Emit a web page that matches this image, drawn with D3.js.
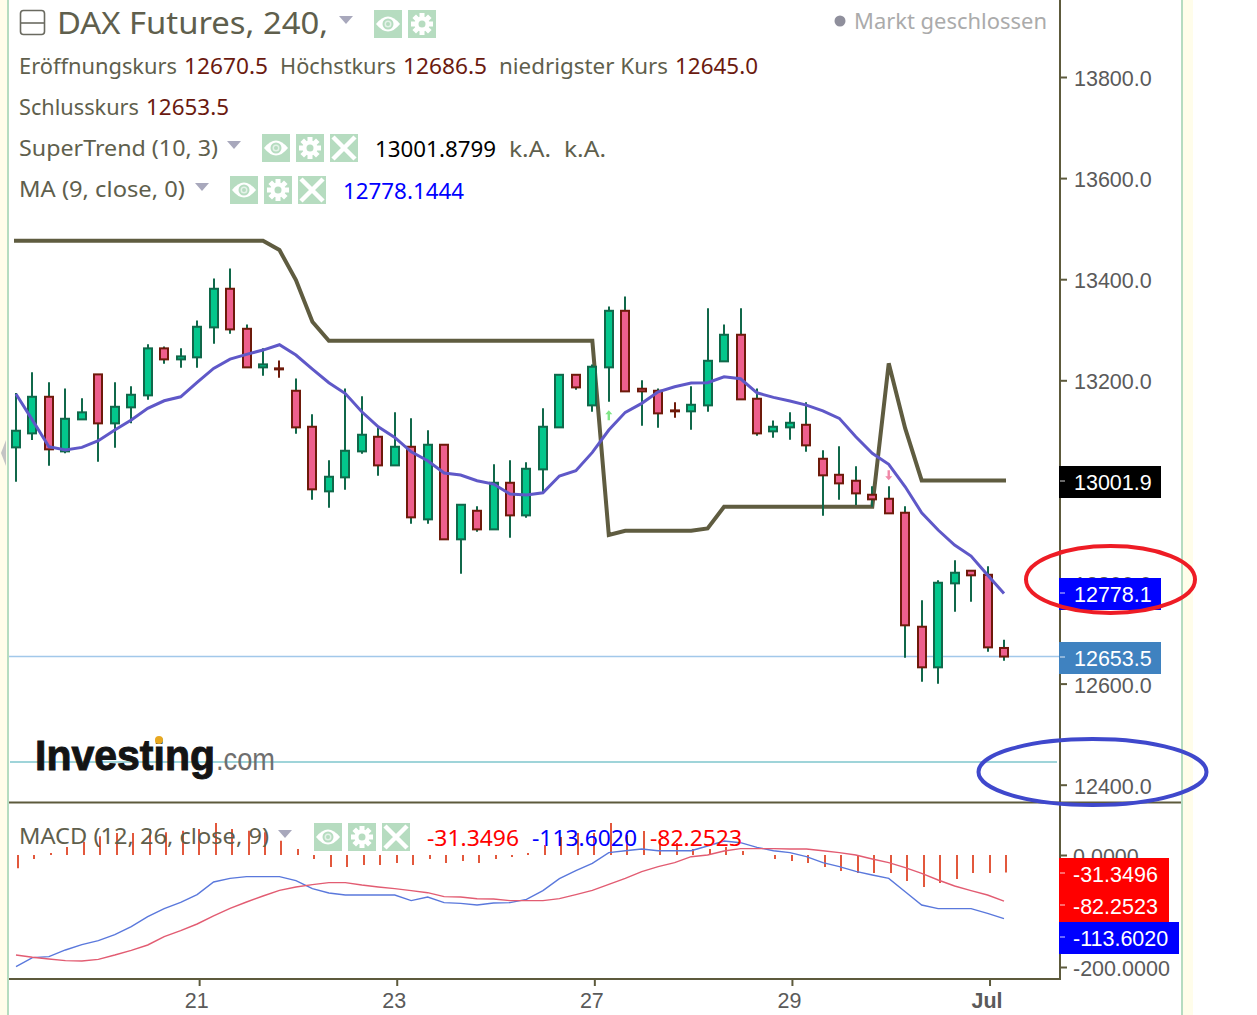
<!DOCTYPE html>
<html>
<head>
<meta charset="utf-8">
<title>DAX Futures, 240</title>
<script src="https://cdnjs.cloudflare.com/ajax/libs/d3/7.8.5/d3.min.js"></script>
<style>
  html, body { margin: 0; padding: 0; background: #fff; }
  svg { display: block; }
  .head { font-family: "Noto Sans", sans-serif; }
  .axis text { font-family: "Liberation Sans", Arial, sans-serif; font-size: 21.5px; fill: #5a5a5a; }
  .axis line, .axis path { stroke: #5d5a3c; stroke-width: 2; }
  .tag { font-family: "Liberation Sans", Arial, sans-serif; font-size: 21.5px; fill: #fff; }
</style>
</head>
<body>
<svg id="chart" width="1257" height="1015"></svg>
<script>
(function () {
  var opens = [13067.3, 13095, 13167.4, 13059.4, 13122.7, 13211.7, 13114.8, 13146.5, 13170.2, 13263.2, 13241.4,
    13245.4, 13304.7, 13381.1, 13301.9, 13225.6, 13223.6, 13179.3, 13108.1, 12980.3, 13008, 13059.4, 13088.3,
    13031.7, 13068.5, 12924.9, 13072.5, 12885.4, 12941.9, 12905.1, 12997.3, 12932.8, 13023.8, 13106.9, 13210.9,
    13150.4, 13225.6, 13337.5, 13183.3, 13179.3, 13140.5, 13138.6, 13150.4, 13237.5, 13290.1, 13163.5, 13099,
    13106.9, 13112, 13044.8, 13013.1, 13001.3, 12973.6, 12965.7, 12938, 12712.5, 12632.2, 12798.3, 12823.3,
    12815.3, 12670.5];
  var highs = [13174.7, 13215.7, 13195.9, 13184, 13164.3, 13211.7, 13195.9, 13188, 13271.1, 13267.1, 13263.2,
    13318.5, 13401.6, 13421.4, 13310.6, 13263.2, 13239.4, 13203.8, 13132.6, 13041.6, 13184, 13168.2, 13108.9,
    13136.6, 13124.7, 13101, 13072.5, 12953.8, 12950.6, 13033.7, 13041.6, 13037.7, 13144.5, 13210.9, 13210.9,
    13231.5, 13346.2, 13366, 13199.9, 13184, 13156.4, 13188, 13342.3, 13310.6, 13342.3, 13184, 13120.7,
    13136.6, 13156.4, 13061.4, 13069.3, 13029.8, 12990.2, 12990.2, 12950.6, 12764.7, 12804.3, 12843.8, 12824.1,
    12832, 12686.5];
  var lows = [12999.3, 13081.8, 13030.9, 13055.5, 13122.7, 13038.8, 13066.5, 13114.8, 13161.5, 13232.7, 13224.8,
    13224.8, 13272.3, 13292.1, 13225.6, 13209, 13205, 13094.2, 12963.7, 12947.9, 12983.5, 13054.7, 13011.2,
    13031.7, 12916.2, 12916.2, 12885.4, 12817.3, 12900.4, 12905.1, 12888.5, 12928.1, 12976.3, 13106.9, 13181.3,
    13137.8, 13157.5, 13178.1, 13110.1, 13106.1, 13125.9, 13102.1, 13137.8, 13237.5, 13162.3, 13090.3, 13086.3,
    13082.4, 13058.6, 12932.1, 12963.7, 12953.2, 12949.8, 12936.8, 12651.2, 12603.7, 12599.7, 12742.1, 12761.9,
    12663, 12645];
  var closes = [13100.2, 13167.4, 13063.4, 13123.9, 13136.6, 13114.8, 13147.6, 13171.4, 13263.2, 13241.4, 13247.3,
    13305.9, 13381.1, 13300.7, 13225.6, 13231.5, 13221.6, 13106.9, 12984.3, 13009.2, 13060.6, 13092.3, 13031.7,
    13068.5, 12928.9, 13072.5, 12885.4, 12953.8, 12905.1, 12997.3, 12932.8, 13025, 13108.1, 13210.9, 13186,
    13226.8, 13337.5, 13178.1, 13178.1, 13134.6, 13138.6, 13151.6, 13238.6, 13290.1, 13162.3, 13095, 13108.1,
    13116, 13071.3, 13012, 12996.1, 12976.3, 12964.5, 12936.8, 12715.3, 12632.2, 12799.5, 12819.3, 12814.2,
    12671.7, 12653.5];
  var maValues = [13172.8, 13121.3, 13068.5, 13062, 13067.3, 13080.4, 13101.6, 13121.3, 13144.5, 13159.5, 13167.4,
    13195.9, 13223.6, 13242, 13251.3, 13259.8, 13270.3, 13249.9, 13222.2, 13195.1, 13173.7, 13137.8, 13108.1,
    13087.1, 13058.6, 13040.8, 13016.5, 13012.5, 13001.3, 12994.7, 12975, 12973, 12977.5, 13010.6, 13021.1,
    13057.4, 13101.6, 13136.6, 13154.4, 13177.3, 13187.2, 13194.5, 13195.1, 13207, 13203, 13175.3, 13166.2,
    13158.9, 13151, 13139.7, 13124.7, 13088.3, 13055.5, 13033.7, 12989.4, 12938, 12903.8, 12874.1, 12852.3,
    12814.7, 12778.1];
  var superTrend = [13476, 13476, 13476, 13476, 13476, 13476, 13476, 13476, 13476, 13476, 13476,
    13476, 13476, 13476, 13476, 13476, 13457.6, 13398.3, 13315.8, 13278.2, 13278.2, 13278.2, 13278.2,
    13278.2, 13278.2, 13278.2, 13278.2, 13278.2, 13278.2, 13278.2, 13278.2, 13278.2, 13278.2, 13278.2, 13278.2,
    13278.2, 12893.9, 12902.4, 12902.4, 12902.4, 12902.4, 12902.4, 12907.1, 12949.8, 12949.8, 12949.8, 12949.8,
    12949.8, 12949.8, 12949.8, 12949.8, 12949.8, 12949.8, 13233.5, 13104.9, 13001.9, 13001.9, 13001.9, 13001.9,
    13001.9, 13001.9];
  var macdHist = [-23.8, -7.1, 3.6, 14.3, 23.8, 33.3, 39.3, 39.3, 46.4, 40.5, 43.4,
    46.4, 57.1, 46.4, 43.4, 40.5, 25.6, 10.7, -7.1, -21.4, -21.4, -17.9, -17.9,
    -14.3, -17.9, -7.1, -14.3, -10.7, -14.3, -7.1, -3.6, 3.6, 17.9, 32.1, 39.3,
    39.3, 57.1, 35.7, 42.8, 28.6, 21.4, 10.7, 10.7, 14.3, 7.1, 0, -7.1,
    -10.7, -14.3, -21.4, -28.6, -32.1, -32.1, -32.1, -46.4, -57.1, -50, -42.8, -32.1,
    -32.1, -31.35];
  var macdLine = [-199.4, -183.3, -181.5, -169.6, -160.1, -153, -142.3, -128, -110.1, -95.8, -84.5,
    -70.8, -48.2, -41.7, -38.7, -38.7, -38.7, -45.8, -60.1, -67.9, -71.4, -71.4, -71.4,
    -71.4, -81.5, -75, -85.1, -86.3, -89.3, -85.7, -85.1, -79.2, -63.7, -42.3, -28,
    -14.9, 4.2, 7.7, 10.7, 7.7, 7.7, 7.7, 16.1, 25, 22, 13.7, 7.7,
    4.2, -3, -13.7, -20.8, -29.2, -35.7, -41.7, -65.5, -89.3, -95.8, -95.8, -95.8,
    -104.2, -113.6];
  var macdSignal = [-178.6, -182.7, -185.7, -188.7, -189.3, -186.3, -178.6, -170.2, -160.7, -145.8, -135.1,
    -123.2, -108.9, -95.2, -83.9, -73.2, -63.1, -57.1, -53, -49.4, -49.4, -53.6, -57.1,
    -60.1, -63.7, -67.3, -74.4, -75, -78, -78.6, -81.5, -81.5, -81.5, -78, -70.8,
    -63.1, -52.4, -41.7, -29.8, -20.8, -13.7, -3, 0, 7.1, 11.3, 11.3, 11.3,
    10.7, 10.7, 7.7, 4.2, 0, -7.1, -13.7, -22.6, -32.7, -44.6, -55.4, -63.7,
    -71.4, -82.25];

  var priceTicks = [12400, 12600, 12800, 13000, 13200, 13400, 13600, 13800];
  var macdTicks = [0, -200];
  var dateTickBars = [11, 23, 35, 47, 59];
  var dateTickLabels = ['21', '23', '27', '29', 'Jul'];

  var lastClose = 12653.5;
  var lastMa = 12778.1;
  var lastTrend = 13001.9;
  var hLine = 12445;

  var svg = d3.select('#chart');
  var x = d3.scaleLinear().domain([0, 60]).range([16, 1004]);
  var xLow = d3.scaleLinear().domain([0, 60]).range([18, 1006]);
  var y = d3.scaleLinear().domain([12400, 13800]).range([784.7, 77]);
  var yMacd = d3.scaleLinear().domain([-200, 0]).range([967, 855]);

  var OLIVE = '#5d5a3c';
  var GREEN_EDGE = '#10684a';
  var RED_EDGE = '#6e1a0a';
  var ICON_GREEN = '#b6dcc0';


  function drawFrame() {
    svg.append('rect').attr('x', 0).attr('y', 0).attr('width', 7).attr('height', 1015).attr('fill', '#fffdea');
    svg.append('rect').attr('x', 7).attr('y', 0).attr('width', 2).attr('height', 1015).attr('fill', '#b5dcc0');
    svg.append('rect').attr('x', 1181).attr('y', 0).attr('width', 2).attr('height', 1015).attr('fill', '#b5dcc0');
    svg.append('rect').attr('x', 1183).attr('y', 0).attr('width', 10).attr('height', 1015).attr('fill', '#fffdea');
    svg.append('path').attr('d', 'M1 453L6 440V466Z').attr('fill', '#c4c4c4');
  }


  /**
   * The axes go first: the value tags are painted over their labels.
   */
  function drawAxes() {
    var priceAxis = svg.append('g').attr('class', 'axis')
        .attr('transform', 'translate(1060,0)')
        .call(d3.axisRight(y).tickValues(priceTicks).tickSize(7).tickPadding(7)
          .tickFormat(function (d) { return d.toFixed(1); }));
    priceAxis.select('.domain').remove();
    priceAxis.selectAll('text').attr('dy', '0.4em');

    var macdAxis = svg.append('g').attr('class', 'axis')
        .attr('transform', 'translate(1060,0)')
        .call(d3.axisRight(yMacd).tickValues(macdTicks).tickSize(7).tickPadding(6)
          .tickFormat(function (d) { return d.toFixed(4); }));
    macdAxis.select('.domain').remove();
    macdAxis.selectAll('text').attr('dy', '0.4em');

    var dateAxis = svg.append('g').attr('class', 'axis')
        .attr('transform', 'translate(0,979)')
        .call(d3.axisBottom(xLow).tickValues(dateTickBars).tickSize(7).tickPadding(7)
          .tickFormat(function (d, i) { return dateTickLabels[i]; }));
    dateAxis.select('.domain').remove();
    dateAxis.selectAll('text').attr('dx', -3)
        .style('font-weight', function (d, i) { return dateTickLabels[i] === 'Jul' ? 'bold' : 'normal'; });

    svg.append('line').attr('x1', 1060).attr('x2', 1060).attr('y1', 0).attr('y2', 979)
        .attr('stroke', OLIVE).attr('stroke-width', 2);
    svg.append('line').attr('x1', 9).attr('x2', 1181).attr('y1', 802.5).attr('y2', 802.5)
        .attr('stroke', OLIVE).attr('stroke-width', 2);
    svg.append('line').attr('x1', 9).attr('x2', 1061).attr('y1', 979).attr('y2', 979)
        .attr('stroke', OLIVE).attr('stroke-width', 2);
  }


  function drawPriceLines() {
    svg.append('line').attr('x1', 9).attr('x2', 1060)
        .attr('y1', y(lastClose)).attr('y2', y(lastClose))
        .attr('stroke', '#a2c8ea').attr('stroke-width', 1.5);
    svg.append('line').attr('x1', 10).attr('x2', 1057)
        .attr('y1', y(hLine)).attr('y2', y(hLine))
        .attr('stroke', '#7fc6cc').attr('stroke-width', 1.5);
  }


  function drawLogo() {
    svg.append('text').attr('x', 35).attr('y', 770)
        .style('font-family', '"Liberation Sans", Arial, sans-serif')
        .style('font-size', '43px').style('font-weight', 'bold')
        .attr('textLength', 180).attr('lengthAdjust', 'spacingAndGlyphs')
        .attr('stroke', '#141414').attr('stroke-width', 1)
        .attr('fill', '#141414').text('Investing');
    svg.append('text').attr('x', 216).attr('y', 770)
        .style('font-family', '"Liberation Sans", Arial, sans-serif')
        .style('font-size', '32px')
        .attr('textLength', 59).attr('lengthAdjust', 'spacingAndGlyphs')
        .attr('fill', '#6f6f6f').text('.com');
    svg.append('circle').attr('cx', 159).attr('cy', 740).attr('r', 4).attr('fill', '#e8a820');
  }


  function drawSuperTrend() {
    var line = d3.line()
        .x(function (d, i) { return x(i); })
        .y(function (d) { return y(d); });
    svg.append('path').datum(superTrend)
        .attr('d', line)
        .attr('fill', 'none')
        .attr('stroke', '#5f5c40')
        .attr('stroke-linecap', 'square')
        .attr('stroke-width', 4);
  }


  function drawCandles() {
    var bars = svg.append('g').selectAll('g')
        .data(d3.range(opens.length))
        .enter().append('g');

    bars.append('line')
        .attr('x1', function (i) { return Math.round(x(i)); })
        .attr('x2', function (i) { return Math.round(x(i)); })
        .attr('y1', function (i) { return y(highs[i]); })
        .attr('y2', function (i) { return y(lows[i]); })
        .attr('stroke', function (i) {
          return Math.abs(opens[i] - closes[i]) < 3 && closes[i] < opens[i] ? RED_EDGE : GREEN_EDGE;
        })
        .attr('stroke-width', 2);

    bars.append('rect')
        .attr('x', function (i) { return Math.round(x(i)) - 4; })
        .attr('width', 8)
        .attr('y', function (i) { return y(Math.max(opens[i], closes[i])); })
        .attr('height', function (i) { return Math.abs(y(opens[i]) - y(closes[i])); })
        .attr('fill', function (i) { return closes[i] >= opens[i] ? '#03c78c' : '#ee5f8d'; })
        .attr('stroke', function (i) { return closes[i] >= opens[i] ? GREEN_EDGE : RED_EDGE; })
        .attr('stroke-width', 2);
  }


  function drawMa() {
    var line = d3.line()
        .x(function (d, i) { return x(i); })
        .y(function (d) { return y(d); });
    svg.append('path').datum(maValues)
        .attr('d', line)
        .attr('fill', 'none')
        .attr('stroke', '#5f58c8')
        .attr('stroke-width', 3);
  }


  function drawSignalArrows() {
    svg.append('path')
        .attr('transform', 'translate(' + x(36) + ',' + y(13131) + ')')
        .attr('d', 'M0 -5L-3.5 -1H-1.2V5H1.2V-1H3.5Z')
        .attr('fill', '#7fe686');
    svg.append('path')
        .attr('transform', 'translate(' + x(53) + ',' + y(13012) + ')')
        .attr('d', 'M0 5L-3.5 1H-1.2V-5H1.2V1H3.5Z')
        .attr('fill', '#f088a8');
  }


  function drawMacd() {
    svg.append('g').selectAll('line')
        .data(macdHist)
        .enter().append('line')
        .attr('x1', function (d, i) { return Math.round(xLow(i)); })
        .attr('x2', function (d, i) { return Math.round(xLow(i)); })
        .attr('y1', yMacd(0))
        .attr('y2', function (d) { return yMacd(d); })
        .attr('stroke', '#e2583c')
        .attr('stroke-width', 2);

    var line = d3.line()
        .x(function (d, i) { return x(i); })
        .y(function (d) { return yMacd(d); });
    svg.append('path').datum(macdLine)
        .attr('d', line).attr('fill', 'none')
        .attr('stroke', '#5a78dc').attr('stroke-width', 1.4);
    svg.append('path').datum(macdSignal)
        .attr('d', line).attr('fill', 'none')
        .attr('stroke', '#e25c72').attr('stroke-width', 1.4);
  }


  function headText(str, left, base, width, color, size) {
    return svg.append('text').attr('class', 'head')
        .attr('x', left).attr('y', base)
        .attr('textLength', width).attr('lengthAdjust', 'spacingAndGlyphs')
        .style('font-size', (size || 22) + 'px')
        .attr('fill', color).text(str);
  }


  function triangle(cx, cy) {
    svg.append('path')
        .attr('d', 'M' + (cx - 7) + ' ' + (cy - 4) + 'H' + (cx + 7) + 'L' + cx + ' ' + (cy + 4) + 'Z')
        .attr('fill', '#a8a8bc');
  }


  /**
   * One of the pale green buttons in the legend: eye, gear or cross.
   */
  function icon(kind, left, top) {
    var g = svg.append('g').attr('transform', 'translate(' + (left + 14) + ',' + (top + 14) + ')');
    g.append('rect').attr('x', -14).attr('y', -14).attr('width', 28).attr('height', 28).attr('fill', ICON_GREEN);
    if (kind === 'eye') {
      g.append('path').attr('d', 'M-12 0Q0 -15 12 0Q0 15 -12 0Z').attr('fill', '#fff');
      g.append('circle').attr('r', 4.5).attr('fill', '#e4f2e8').attr('stroke', ICON_GREEN).attr('stroke-width', 2);
      g.append('circle').attr('r', 2).attr('fill', ICON_GREEN);
    } else if (kind === 'gear') {
      d3.range(4).forEach(function (i) {
        g.append('rect').attr('x', -2.5).attr('y', -11).attr('width', 5).attr('height', 22)
            .attr('fill', '#fff').attr('transform', 'rotate(' + i * 45 + ')');
      });
      g.append('circle').attr('r', 7.5).attr('fill', '#fff');
      g.append('circle').attr('r', 3.5).attr('fill', ICON_GREEN);
    } else {
      g.append('path').attr('d', 'M-11 -11L11 11M11 -11L-11 11')
          .attr('stroke', '#fff').attr('stroke-width', 4.5);
    }
  }


  function drawLegend() {
    var gray = '#5f5f4d';
    var rust = '#6b1a10';

    svg.append('rect').attr('x', 20.5).attr('y', 10.5).attr('width', 24).attr('height', 24).attr('rx', 3)
        .attr('fill', 'none').attr('stroke', '#6a6a60').attr('stroke-width', 1.6);
    svg.append('line').attr('x1', 21).attr('x2', 44).attr('y1', 23).attr('y2', 23)
        .attr('stroke', '#6a6a60').attr('stroke-width', 1.6);

    headText('DAX Futures, 240,', 57, 34, 271, '#5f5f4d', 31);
    triangle(346, 20);
    icon('eye', 374, 10);
    icon('gear', 408, 10);

    svg.append('circle').attr('cx', 840).attr('cy', 21).attr('r', 5.5).attr('fill', '#8f8f9c');
    headText('Markt geschlossen', 854, 29, 193, '#ababab', 22);

    headText('Eröffnungskurs', 19, 74, 158, gray);
    headText('12670.5', 184, 74, 84, rust);
    headText('Höchstkurs', 280, 74, 116, gray);
    headText('12686.5', 403, 74, 84, rust);
    headText('niedrigster Kurs', 499, 74, 169, gray);
    headText('12645.0', 675, 74, 83, rust);

    headText('Schlusskurs', 19, 115, 120, gray);
    headText('12653.5', 146, 115, 83, rust);

    headText('SuperTrend (10, 3)', 19, 156, 199, gray);
    triangle(234, 145);
    icon('eye', 262, 134);
    icon('gear', 296, 134);
    icon('x', 330, 134);
    headText('13001.8799', 375, 157, 121, '#000');
    headText('k.A.', 509, 157, 42, gray);
    headText('k.A.', 564, 157, 42, gray);

    headText('MA (9, close, 0)', 19, 197, 166, gray);
    triangle(202, 187);
    icon('eye', 230, 176);
    icon('gear', 264, 176);
    icon('x', 298, 176);
    headText('12778.1444', 343, 199, 121, '#0000ff');

    headText('MACD (12, 26, close, 9)', 19, 844, 250, gray);
    triangle(285, 834);
    icon('eye', 314, 823);
    icon('gear', 348, 823);
    icon('x', 382, 823);
    headText('-31.3496', 427, 846, 92, '#ff0000');
    headText('-113.6020', 532, 846, 105, '#0000ff');
    headText('-82.2523', 650, 846, 92, '#ff0000');
  }


  function valueTag(str, top, right, color, textLeft) {
    svg.append('rect').attr('x', 1059).attr('y', top)
        .attr('width', right - 1059).attr('height', 32).attr('fill', color);
    svg.append('line').attr('x1', 1060).attr('x2', 1065)
        .attr('y1', top + 15).attr('y2', top + 15)
        .attr('stroke', '#fff').attr('stroke-opacity', 0.55).attr('stroke-width', 1.5);
    svg.append('text').attr('class', 'tag').attr('x', textLeft).attr('y', top + 24).text(str);
  }


  function drawTags() {
    valueTag(lastTrend.toFixed(1), 466, 1161, '#000', 1074);
    valueTag(lastMa.toFixed(1), 578, 1161, '#0000ff', 1074);
    valueTag(lastClose.toFixed(1), 642, 1161, '#3f82c0', 1074);
    valueTag('-31.3496', 858, 1169, '#ff0000', 1073);
    valueTag('-82.2523', 890, 1169, '#ff0000', 1073);
    valueTag('-113.6020', 922, 1179, '#0000ff', 1073);
  }


  function drawAnnotations() {
    svg.append('ellipse').attr('cx', 1110.5).attr('cy', 579.5).attr('rx', 84.5).attr('ry', 33.5)
        .attr('fill', 'none').attr('stroke', '#ee1c25').attr('stroke-width', 4);
    svg.append('ellipse').attr('cx', 1092.5).attr('cy', 772).attr('rx', 114).attr('ry', 33)
        .attr('fill', 'none').attr('stroke', '#3f48cc').attr('stroke-width', 4);
  }


  drawFrame();
  drawAxes();
  drawPriceLines();
  drawLogo();
  drawSuperTrend();
  drawCandles();
  drawMa();
  drawSignalArrows();
  drawMacd();
  drawLegend();
  drawTags();
  drawAnnotations();
}());
</script>
</body>
</html>
